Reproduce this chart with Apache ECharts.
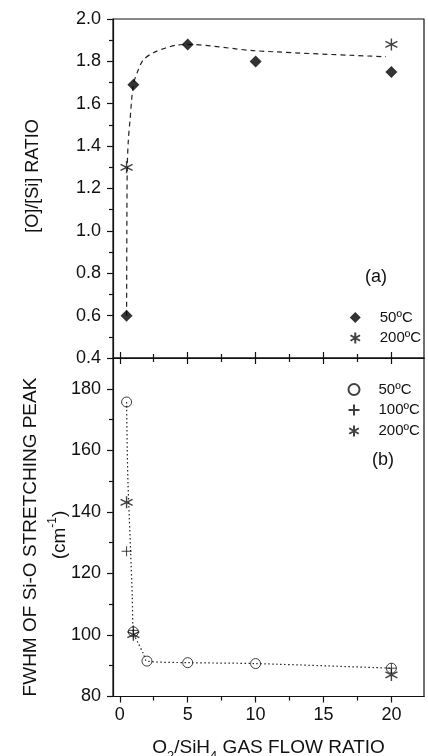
<!DOCTYPE html>
<html>
<head>
<meta charset="utf-8">
<script src="https://cdn.jsdelivr.net/npm/echarts@6/dist/echarts.min.js"></script>
<style>
html,body{margin:0;padding:0;background:#fff;}
#c{width:428px;height:756px;}
</style>
</head>
<body>
<div id="c"></div>
<script>
// ---------- data ----------
// panel (a): [O]/[Si] ratio
const topX50 = [0.5, 1, 5, 10, 20];
const topY50 = [0.60, 1.69, 1.88, 1.80, 1.75];
const topX200 = [0.5, 20];
const topY200 = [1.30, 1.88];
const topFitX = [0.5, 0.52, 0.55, 0.63, 0.75, 1, 1.36, 1.73, 2.47, 3.33, 4.19, 5, 10, 19.6];
const topFitY = [0.60, 1.00, 1.30, 1.43, 1.52, 1.69, 1.76, 1.807, 1.841, 1.862, 1.877, 1.88, 1.85, 1.822];
// panel (b): FWHM
const botX50 = [0.5, 1, 2, 5, 10, 20];
const botY50 = [175.7, 101, 91.5, 91, 90.7, 89.2];
const botX100 = [0.5, 1, 20];
const botY100 = [127.2, 101.5, 89.2];
const botX200 = [0.5, 1, 20];
const botY200 = [143.1, 100.1, 87.0];
const botFitX = [0.5, 0.55, 0.6, 0.7, 0.8, 0.92, 1, 1.36, 1.73, 2, 5, 10, 20];
const botFitY = [175.7, 160, 150, 138, 127, 112.5, 101, 97.3, 94, 91.5, 91, 90.7, 89.2];
// ticks
const xMajor = [0, 5, 10, 15, 20];
const xMinor = [2.5, 7.5, 12.5, 17.5];
const yTopMajor = [0.4, 0.6, 0.8, 1.0, 1.2, 1.4, 1.6, 1.8, 2.0];
const yTopMinor = [0.5, 0.7, 0.9, 1.1, 1.3, 1.5, 1.7, 1.9];
const yBotMajor = [80, 100, 120, 140, 160, 180];
const yBotMinor = [90, 110, 130, 150, 170];
const legendNames = {t50: '50ºC', t200: '200ºC', b50: '50ºC', b100: '100ºC', b200: '200ºC'};

const pairs = (xs, ys) => xs.map((x, i) => [x, ys[i]]);

const INK = '#111';
const FONT = "'Liberation Sans', Arial, sans-serif";
const STAR = 'path://M0,-5L0,5M-4.33,-2.5L4.33,2.5M-4.33,2.5L4.33,-2.5';
const PLUS = 'path://M-5,0L5,0M0,-5L0,5';

const XMIN = -0.5, XMAX = 22.4;

function xAx(gridIndex, position, values, len, inside, withLine, withLabel, extra) {
  return Object.assign({
    type: 'value', gridIndex, position, min: XMIN, max: XMAX,
    axisLine: {show: withLine, onZero: false, lineStyle: {color: INK, width: 1.2}},
    axisTick: {show: true, inside, length: len, customValues: values, lineStyle: {color: INK, width: 1.2}},
    axisLabel: withLabel
      ? {show: true, customValues: values, color: INK, fontFamily: FONT, fontSize: 18, margin: 10}
      : {show: false},
    splitLine: {show: false}
  }, extra || {});
}
function yAx(gridIndex, min, max, values, len, withLine, withLabel, digits) {
  return {
    type: 'value', gridIndex, position: 'left', min, max,
    axisLine: {show: withLine, onZero: false, lineStyle: {color: INK, width: 1.2}},
    axisTick: {show: true, inside: false, length: len, customValues: values, lineStyle: {color: INK, width: 1.2}},
    axisLabel: withLabel
      ? {show: true, customValues: values, color: INK, fontFamily: FONT, fontSize: 18, margin: 12,
         formatter: v => Number(v).toFixed(digits)}
      : {show: false},
    splitLine: {show: false}
  };
}

const chart = echarts.init(document.getElementById('c'), null, {renderer: 'canvas'});
chart.setOption({
  animation: false,
  backgroundColor: '#fff',
  grid: [
    {left: 113, top: 19, width: 311, height: 339, show: true, borderColor: INK, borderWidth: 1.2,
     backgroundColor: 'transparent', containLabel: false, outerBoundsMode: 'none'},
    {left: 113, top: 358, width: 311, height: 338.5, show: true, borderColor: INK, borderWidth: 1.2,
     backgroundColor: 'transparent', containLabel: false, outerBoundsMode: 'none'}
  ],
  xAxis: [
    xAx(0, 'bottom', xMajor, 6, true, true, false),
    xAx(0, 'bottom', xMinor, 4, true, false, false),
    xAx(1, 'top', xMajor, 6, true, true, false),
    xAx(1, 'top', xMinor, 4, true, false, false),
    xAx(1, 'bottom', xMajor, 6, false, true, true, {
      name: '{a|O}{s|2}{a|/SiH}{s|4}{a| GAS FLOW RATIO}',
      nameLocation: 'middle', nameGap: 39,
      nameTextStyle: {
        color: INK, fontFamily: FONT, fontSize: 19,
        rich: {
          a: {fontSize: 19, fontFamily: FONT, color: INK, verticalAlign: 'bottom', lineHeight: 22},
          s: {fontSize: 13, fontFamily: FONT, color: INK, verticalAlign: 'bottom', lineHeight: 16, padding: [0, 0, -5, 0]}
        }
      }
    }),
    xAx(1, 'bottom', xMinor, 4, false, false, false)
  ],
  yAxis: [
    yAx(0, 0.4, 2.0, yTopMajor, 6, true, true, 1),
    yAx(0, 0.4, 2.0, yTopMinor, 4, false, false, 1),
    yAx(1, 80, 190, yBotMajor, 6, true, true, 0),
    yAx(1, 80, 190, yBotMinor, 4, false, false, 0)
  ],
  legend: [
    {
      orient: 'vertical', left: 348, top: 310, padding: 0, itemWidth: 11, itemHeight: 11, itemGap: 5,
      data: ['t50', 't200'], selectedMode: false,
      formatter: n => legendNames[n],
      textStyle: {color: INK, fontFamily: FONT, fontSize: 15, lineHeight: 15, padding: [0, 0, 0, 14]}
    },
    {
      orient: 'vertical', left: 346, top: 382, padding: 0, itemWidth: 11, itemHeight: 11, itemGap: 5,
      data: ['b50', 'b100', 'b200'], selectedMode: false,
      formatter: n => legendNames[n],
      textStyle: {color: INK, fontFamily: FONT, fontSize: 15, lineHeight: 15, padding: [0, 0, 0, 14]}
    }
  ],
  graphic: [
    {type: 'text', x: 33, y: 176, rotation: Math.PI / 2,
     style: {text: '[O]/[Si] RATIO', fill: INK, font: "18px 'Liberation Sans', Arial", align: 'center', verticalAlign: 'middle'}},
    {type: 'text', x: 31, y: 537, rotation: Math.PI / 2,
     style: {text: 'FWHM OF Si-O STRETCHING PEAK', fill: INK, font: "19px 'Liberation Sans', Arial", align: 'center', verticalAlign: 'middle'}},
    {type: 'text', x: 58, y: 535, rotation: Math.PI / 2,
     style: {text: '{a|(cm}{s|-1}{a|)}', align: 'center', verticalAlign: 'middle',
       rich: {
         a: {fill: INK, fontSize: 19, fontFamily: FONT, verticalAlign: 'bottom', lineHeight: 22},
         s: {fill: INK, fontSize: 12, fontFamily: FONT, verticalAlign: 'top', lineHeight: 22}
       }}},
    {type: 'text', x: 376, y: 277,
     style: {text: '(a)', fill: INK, font: "18px 'Liberation Sans', Arial", align: 'center', verticalAlign: 'middle'}},
    {type: 'text', x: 383, y: 460,
     style: {text: '(b)', fill: INK, font: "18px 'Liberation Sans', Arial", align: 'center', verticalAlign: 'middle'}}
  ],
  series: [
    {type: 'line', name: 'fitTop', xAxisIndex: 0, yAxisIndex: 0, data: pairs(topFitX, topFitY),
     showSymbol: false, smooth: 0.3, lineStyle: {color: '#222', width: 1.2, type: [5, 4]}, silent: true, z: 2},
    {type: 'scatter', name: 't50', xAxisIndex: 0, yAxisIndex: 0, data: pairs(topX50, topY50),
     symbol: 'diamond', symbolSize: 12, itemStyle: {color: '#000'}, z: 3},
    {type: 'scatter', name: 't200', xAxisIndex: 0, yAxisIndex: 0, data: pairs(topX200, topY200),
     symbol: STAR, symbolSize: 12, itemStyle: {color: 'none', borderColor: INK, borderWidth: 1.4}, z: 3},
    {type: 'line', name: 'fitBot', xAxisIndex: 4, yAxisIndex: 2, data: pairs(botFitX, botFitY),
     showSymbol: false, smooth: 0.3, lineStyle: {color: '#222', width: 1.2, type: [1.5, 2.5]}, silent: true, z: 2},
    {type: 'scatter', name: 'b50', xAxisIndex: 4, yAxisIndex: 2, data: pairs(botX50, botY50),
     symbol: 'circle', symbolSize: 10, itemStyle: {color: 'rgba(0,0,0,0)', borderColor: INK, borderWidth: 1}, z: 3},
    {type: 'scatter', name: 'b100', xAxisIndex: 4, yAxisIndex: 2, data: pairs(botX100, botY100),
     symbol: PLUS, symbolSize: 10, itemStyle: {color: 'none', borderColor: INK, borderWidth: 1}, z: 3},
    {type: 'scatter', name: 'b200', xAxisIndex: 4, yAxisIndex: 2, data: pairs(botX200, botY200),
     symbol: STAR, symbolSize: 12, itemStyle: {color: 'none', borderColor: INK, borderWidth: 1.4}, z: 3}
  ]
});
</script>
</body>
</html>
